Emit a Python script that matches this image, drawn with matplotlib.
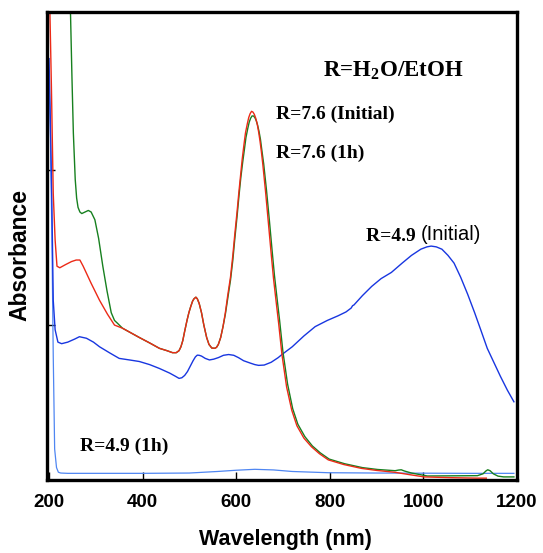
import matplotlib
matplotlib.use('Agg')
import matplotlib.pyplot as plt

# R=7.6 (Initial) - red
red_nm = [200, 202, 205, 209, 213, 217, 223, 235, 248, 258, 266, 273, 290, 308, 325, 340, 357,
          375, 393, 415, 436, 452, 464, 472, 478, 482, 486, 490, 495, 499, 503, 507, 510, 514,
          517, 521, 526, 531, 537, 542, 548, 554, 558, 562, 567, 572, 577, 582, 588, 593, 597,
          602, 606, 610, 613, 617, 620, 624, 627, 630, 633, 636, 639, 642, 645, 648, 651, 654,
          657, 663, 669, 675, 680, 686, 691, 698, 708, 719, 730, 745, 761, 778, 797, 830, 868,
          900, 939, 970, 1002, 1060, 1116, 1135]
red_ab = [3.6, 3.0, 2.55, 1.85, 1.55, 1.38, 1.37, 1.39, 1.41, 1.42, 1.42, 1.38, 1.27, 1.16, 1.07,
          1.00, 0.98, 0.95, 0.92, 0.885, 0.85, 0.835, 0.822, 0.822, 0.835, 0.86, 0.90, 0.96,
          1.03, 1.08, 1.12, 1.155, 1.17, 1.18, 1.17, 1.14, 1.08, 1.00, 0.92, 0.875, 0.852, 0.85,
          0.856, 0.875, 0.92, 0.99, 1.08, 1.19, 1.31, 1.45, 1.58, 1.73, 1.86, 1.98, 2.07, 2.17,
          2.24, 2.30, 2.34, 2.365, 2.38, 2.375, 2.36, 2.335, 2.30, 2.25, 2.19, 2.12, 2.04, 1.86,
          1.66, 1.46, 1.30, 1.14, 1.01, 0.81, 0.60, 0.45, 0.35, 0.27, 0.215, 0.17, 0.13, 0.10,
          0.075, 0.062, 0.05, 0.035, 0.02, 0.015, 0.012, 0.012]

# R=7.6 (1h) - green
green_nm = [238, 243, 246, 249, 252, 256, 259, 262, 266, 270, 277, 284, 290, 298, 306, 315, 324,
            333, 340, 347, 357, 375, 393, 415, 436, 452, 464, 472, 478, 482, 486, 490, 495, 499,
            503, 507, 510, 514, 517, 521, 526, 531, 537, 542, 548, 554, 558, 562, 567, 572, 577,
            582, 588, 593, 597, 602, 606, 610, 614, 618, 621, 625, 628, 631, 634, 637, 640, 643,
            646, 649, 652, 655, 659, 665, 671, 677, 682, 688, 693, 700, 710, 721, 732, 747, 763,
            780, 799, 832, 870, 902, 940, 947, 953, 960, 975, 1009, 1060, 1116, 1128, 1134, 1138,
            1143, 1150, 1160, 1172, 1194]
green_ab = [3.6, 3.2, 3.0, 2.6, 2.24, 1.94, 1.82, 1.76, 1.73, 1.72, 1.73, 1.74, 1.73, 1.68, 1.56,
            1.38, 1.22, 1.08, 1.03, 1.01, 0.98, 0.95, 0.92, 0.885, 0.85, 0.835, 0.822, 0.822,
            0.835, 0.86, 0.90, 0.96, 1.03, 1.08, 1.12, 1.155, 1.17, 1.18, 1.17, 1.14, 1.08, 1.00,
            0.92, 0.875, 0.852, 0.85, 0.856, 0.875, 0.92, 0.99, 1.07, 1.17, 1.29, 1.42, 1.55,
            1.70, 1.83, 1.95, 2.05, 2.14, 2.21, 2.27, 2.31, 2.335, 2.35, 2.35, 2.34, 2.32, 2.29,
            2.25, 2.20, 2.13, 2.04, 1.87, 1.68, 1.48, 1.32, 1.16, 1.03, 0.83, 0.62, 0.46, 0.36,
            0.28, 0.22, 0.175, 0.135, 0.105, 0.08, 0.068, 0.06, 0.064, 0.066, 0.058, 0.045, 0.026,
            0.027, 0.028, 0.04, 0.058, 0.066, 0.06, 0.04, 0.025, 0.02, 0.02]

# R=4.9 (Initial) - blue
blue_nm = [200, 203, 206, 209, 213, 219, 227, 240, 255, 265, 280, 295, 308, 330, 350, 372, 393,
           415, 436, 458, 470, 478, 484, 490, 496, 502, 508, 513, 517, 521, 526, 534, 543, 552,
           562, 573, 584, 595, 605, 616, 630, 640, 648, 660, 675, 690, 698, 720, 745, 769, 795,
           818, 835, 846, 849, 852, 870, 890, 910, 932, 955, 975, 995, 1008, 1017, 1028, 1040,
           1053, 1066, 1080, 1095, 1110, 1123, 1137, 1151, 1165, 1180, 1194]
blue_ab = [2.72, 2.3, 1.8, 1.16, 0.97, 0.89, 0.88, 0.89, 0.91, 0.925, 0.915, 0.89, 0.86, 0.82,
           0.785, 0.775, 0.765, 0.745, 0.72, 0.69, 0.67, 0.656, 0.66, 0.675, 0.70, 0.735, 0.77,
           0.795, 0.806, 0.805, 0.80, 0.785, 0.775, 0.78, 0.79, 0.805, 0.81, 0.805, 0.79, 0.77,
           0.755, 0.745, 0.74, 0.742, 0.76, 0.79, 0.81, 0.86, 0.93, 0.99, 1.03, 1.06, 1.085,
           1.11, 1.125, 1.13, 1.19, 1.25, 1.30, 1.34, 1.40, 1.45, 1.49, 1.505, 1.51, 1.505,
           1.49, 1.45, 1.40, 1.31, 1.20, 1.08, 0.97, 0.85, 0.76, 0.67, 0.58, 0.505]

# R=4.9 (1h) - light blue
lblue_nm = [200, 203, 206, 209, 212, 216, 220, 225, 240, 300, 400, 500, 560, 600, 640, 680, 720,
            797, 900, 1000, 1100, 1194]
lblue_ab = [2.6, 2.2, 1.6, 0.8, 0.2, 0.08, 0.05, 0.045, 0.043, 0.043, 0.043, 0.045, 0.055, 0.063,
            0.069, 0.065, 0.055, 0.047, 0.045, 0.044, 0.043, 0.043]

x_ticks = [200, 400, 600, 800, 1000, 1200]
y_ticks = [1, 2]

fig = plt.figure(figsize=(5.43, 5.53), dpi=100)
ax = fig.add_axes([0.086, 0.132, 0.8656, 0.846])

ax.plot(lblue_nm, lblue_ab, color='#4f86f2', lw=0.9)
ax.plot(blue_nm, blue_ab, color='#1836e0', lw=1.0)
ax.plot(green_nm, green_ab, color='#17801f', lw=1.0)
ax.plot(red_nm, red_ab, color='#ec2a17', lw=1.0)

ax.set_xlim(195, 1194)
ax.set_ylim(0, 3.02)
ax.set_xticks(x_ticks)
ax.set_xticklabels([str(t) for t in x_ticks], fontfamily='Liberation Sans',
                   fontweight='bold', fontsize=13.5)
ax.set_yticks(y_ticks)
ax.set_yticklabels([])
ax.tick_params(direction='in', length=6, width=1, pad=10)

for s in ax.spines.values():
    s.set_linewidth(2.4)

ax.set_xlabel('Wavelength (nm)', fontfamily='Liberation Sans', fontweight='bold',
              fontsize=15.5, va='center')
ax.xaxis.set_label_coords(0.507, -0.128)
ax.set_ylabel('Absorbance', fontfamily='Liberation Sans', fontweight='bold',
              fontsize=16.5, va='center')
ax.yaxis.set_label_coords(-0.057, 0.481)

serif = dict(fontfamily='Liberation Serif', fontweight='bold')
fig.text(0.724, 0.873, 'R=H$_\\mathregular{2}$O/EtOH', fontsize=16.5, ha='center',
         va='center', **serif)
fig.text(0.508, 0.793, 'R=7.6 (Initial)', fontsize=14, ha='left', va='center', **serif)
fig.text(0.508, 0.723, 'R=7.6 (1h)', fontsize=14, ha='left', va='center', **serif)
t = fig.text(0.674, 0.573, 'R=4.9 ', fontsize=14, ha='left', va='center', **serif)
fig.canvas.draw()
bb = t.get_window_extent().transformed(fig.transFigure.inverted())
fig.text(bb.x1, 0.576, '(Initial)', fontsize=14.5, ha='left', va='center',
         fontfamily='Liberation Sans')
fig.text(0.147, 0.193, 'R=4.9 (1h)', fontsize=14, ha='left', va='center', **serif)

fig.savefig('out.png', dpi=100)
